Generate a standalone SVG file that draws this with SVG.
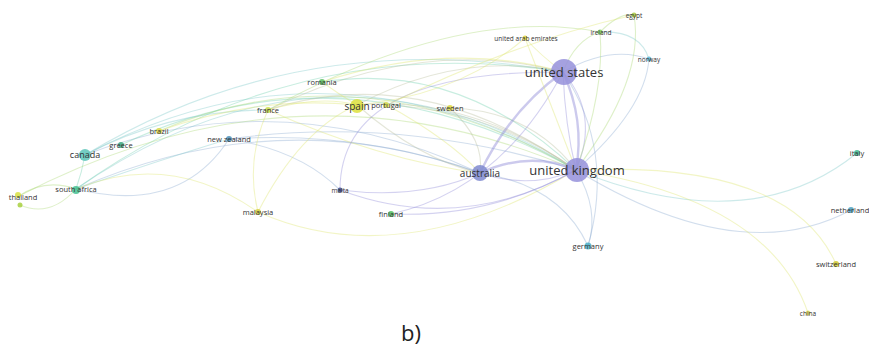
<svg xmlns="http://www.w3.org/2000/svg" width="869" height="347" viewBox="0 0 869 347">
<style>
.e{fill:none;stroke-width:1.1;stroke-opacity:.38}
.p{stroke:#8e8ad8}.y{stroke:#dde468}.g{stroke:#6fcfae}.b{stroke:#8aa8d0}.o{stroke:#b8bc9a}.t{stroke:#7cc8c8}.l{stroke:#a8d870}
.w{stroke-width:2.4;stroke-opacity:.45}
circle{fill-opacity:.85}
text{font-family:"Open Sans","DejaVu Sans",sans-serif;fill:#333;text-anchor:middle}
.s{font-size:7.5px}.m{font-size:10px}.L{font-size:13px}
</style>
<rect width="869" height="347" fill="#fff"/>
<g id="connectors">
<path class="e t" d="M76,189 Q330,15 576,170"/>
<path class="e t" d="M85,155 Q330,25 576,170"/>
<path class="e g" d="M76,189 Q300,30 563,72"/>
<path class="e t" d="M85,155 Q300,25 563,72"/>
<path class="e b" d="M85,155 Q280,80 480,173"/>
<path class="e b" d="M76,189 Q280,100 480,173"/>
<path class="e t" d="M76,189 Q160,160 229,139"/>
<path class="e b" d="M76,189 Q180,215 229,139"/>
<path class="e l" d="M19,196 Q45,178 76,189"/>
<path class="e l" d="M20,205 Q50,218 76,189"/>
<path class="e g" d="M85,155 Q82,172 76,189"/>
<path class="e y" d="M76,189 Q170,150 258,212"/>
<path class="e l" d="M19,196 Q300,50 576,170"/>
<path class="e g" d="M121,145 Q340,40 576,170"/>
<path class="e l" d="M159,131 Q360,45 576,170"/>
<path class="e b" d="M229,139 Q400,115 576,170"/>
<path class="e b" d="M229,139 Q360,130 480,173"/>
<path class="e b" d="M229,139 Q300,150 340,190"/>
<path class="e o" d="M268,110 Q420,60 576,170"/>
<path class="e o" d="M268,110 Q420,35 563,72"/>
<path class="e y" d="M268,110 Q380,160 480,173"/>
<path class="e o" d="M357,105 Q470,95 576,170"/>
<path class="e o" d="M357,105 Q460,50 563,72"/>
<path class="e o" d="M357,105 Q420,160 480,173"/>
<path class="e o" d="M387,105 Q490,110 576,170"/>
<path class="e y" d="M387,105 Q450,140 480,173"/>
<path class="e o" d="M450,108 Q530,110 576,170"/>
<path class="e o" d="M450,108 Q485,140 480,173"/>
<path class="e g" d="M322,82 Q460,60 576,170"/>
<path class="e y" d="M322,82 Q450,40 563,72"/>
<path class="e y" d="M258,212 Q400,275 576,170"/>
<path class="e y" d="M258,212 Q245,160 268,110"/>
<path class="e y" d="M258,212 Q300,130 357,105"/>
<path class="e p" d="M340,190 Q460,235 576,170"/>
<path class="e p" d="M340,190 Q340,70 563,72"/>
<path class="e p" d="M340,190 Q420,200 480,173"/>
<path class="e p" d="M391,214 Q490,218 576,170"/>
<path class="e p" d="M391,214 Q500,190 563,72"/>
<path class="e b" d="M588,246 Q600,210 576,170"/>
<path class="e b" d="M588,246 Q615,150 563,72"/>
<path class="e b" d="M588,246 Q560,185 480,173"/>
<path class="e t" d="M576,170 Q750,240 857,153"/>
<path class="e b" d="M576,170 Q740,270 851,210"/>
<path class="e y" d="M576,170 Q790,160 836,264"/>
<path class="e y" d="M576,170 Q770,200 808,313"/>
<path class="e p w" d="M563,72 Q585,120 576,170"/>
<path class="e p" d="M563,72 Q565,125 576,170"/>
<path class="e p" d="M563,72 Q600,115 576,170"/>
<path class="e p w" d="M563,72 Q510,110 480,173"/>
<path class="e p w" d="M480,173 Q530,150 576,170"/>
<path class="e p" d="M480,173 Q530,190 576,170"/>
<path class="e l" d="M563,72 Q575,40 600,32"/>
<path class="e b" d="M563,72 Q610,45 649,59"/>
<path class="e y" d="M525,38 Q540,55 563,72"/>
<path class="e l" d="M576,170 Q605,90 600,32"/>
<path class="e b" d="M576,170 Q645,110 649,59"/>
<path class="e l" d="M576,170 Q645,80 634,15"/>
<path class="e y" d="M576,170 Q545,90 525,38"/>
<path class="e l" d="M600,32 Q620,12 634,15"/>
<path class="e t" d="M600,32 Q640,30 649,59"/>
<path class="e y" d="M357,105 Q460,95 525,38"/>
<path class="e l" d="M268,110 Q460,5 600,32"/>
<path class="e y" d="M387,105 Q520,40 634,15"/>
<path class="e y" d="M322,82 Q340,95 357,105"/>
<path class="e y" d="M268,110 Q320,95 357,105"/>
<path class="e t" d="M85,155 Q170,110 268,110"/>
<path class="e y" d="M159,131 Q260,95 357,105"/>
</g>
<g id="n-united-states"><circle cx="564" cy="72" r="13" fill="#9591da"/><text class="L" x="564" y="76.5">united states</text></g>
<g id="n-united-kingdom"><circle cx="577" cy="170" r="12" fill="#9591da"/><text class="L" x="577" y="174.5">united kingdom</text></g>
<g id="n-australia"><circle cx="480" cy="173" r="8" fill="#7f8acf"/><text class="m" x="480" y="176.5">australia</text></g>
<g id="n-spain"><circle cx="357" cy="106" r="7" fill="#dde03c"/><text class="m" x="357" y="109.5">spain</text></g>
<g id="n-portugal"><circle cx="386" cy="105" r="3" fill="#d8d84a"/><text class="s" x="386" y="107.5">portugal</text></g>
<g id="n-romania"><circle cx="322" cy="82" r="3" fill="#5cc060"/><text class="s" x="322" y="84.5">romania</text></g>
<g id="n-sweden"><circle cx="450" cy="108" r="3" fill="#e0d840"/><text class="s" x="450" y="110.5">sweden</text></g>
<g id="n-france"><circle cx="268" cy="110" r="3" fill="#c8dc48"/><text class="s" x="268" y="112.5">france</text></g>
<g id="n-brazil"><circle cx="159" cy="131" r="3" fill="#e0d840"/><text class="s" x="159" y="133.5">brazil</text></g>
<g id="n-greece"><circle cx="121" cy="145" r="3" fill="#3aa880"/><text class="s" x="121" y="147.5">greece</text></g>
<g id="n-canada"><circle cx="85" cy="155" r="6" fill="#5cc4b8"/><text class="s" x="85" y="158" style="font-size:9px">canada</text></g>
<g id="n-new-zealand"><circle cx="229" cy="139" r="3" fill="#4a8fb8"/><text class="s" x="229" y="141.5">new zealand</text></g>
<g id="n-south-africa"><circle cx="76" cy="190" r="4" fill="#44c090"/><text class="s" x="76" y="192">south africa</text></g>
<g id="n-thailand"><circle cx="18" cy="195" r="3" fill="#d8e040"/><circle cx="20" cy="205" r="2.5" fill="#a8d040"/><text class="s" x="23" y="199.5">thailand</text></g>
<g id="n-malaysia"><circle cx="258" cy="212" r="3" fill="#d8d040"/><text class="s" x="258" y="214.5">malaysia</text></g>
<g id="n-malta"><circle cx="340" cy="190" r="2.5" fill="#404c90"/><text class="s" x="340" y="192.5" style="font-size:6.5px">malta</text></g>
<g id="n-finland"><circle cx="391" cy="214" r="3" fill="#50c060"/><text class="s" x="391" y="216.5">finland</text></g>
<g id="n-germany"><circle cx="588" cy="246" r="3.5" fill="#4ab0c8"/><text class="s" x="588" y="248.5">germany</text></g>
<g id="n-italy"><circle cx="857" cy="153" r="3" fill="#40b890"/><text class="s" x="857" y="155.5">italy</text></g>
<g id="n-netherland"><circle cx="851" cy="210" r="3" fill="#4aa0c0"/><text class="s" x="850" y="212.5">netherland</text></g>
<g id="n-switzerland"><circle cx="836" cy="264" r="3" fill="#d0c830"/><text class="s" x="836" y="266.5">switzerland</text></g>
<g id="n-china"><circle cx="808" cy="313" r="2.5" fill="#e8e060"/><text class="s" x="808" y="315.5" style="font-size:6.5px">china</text></g>
<g id="n-united-arab-emirates"><circle cx="525" cy="38" r="2.5" fill="#e0d840"/><text class="s" x="526" y="40.5" style="font-size:6.5px">united arab emirates</text></g>
<g id="n-ireland"><circle cx="600" cy="32" r="2.5" fill="#80d060"/><text class="s" x="601" y="34.5" style="font-size:6.5px">ireland</text></g>
<g id="n-egypt"><circle cx="634" cy="15" r="2.5" fill="#a8c840"/><text class="s" x="634" y="17.5" style="font-size:6.5px">egypt</text></g>
<g id="n-norway"><circle cx="649" cy="59" r="2.5" fill="#60b8d8"/><text class="s" x="649" y="61.5" style="font-size:6.5px">norway</text></g>
<text x="411" y="341" style="font-size:22px;font-family:'Open Sans','DejaVu Sans',sans-serif;fill:#222">b)</text>
</svg>
